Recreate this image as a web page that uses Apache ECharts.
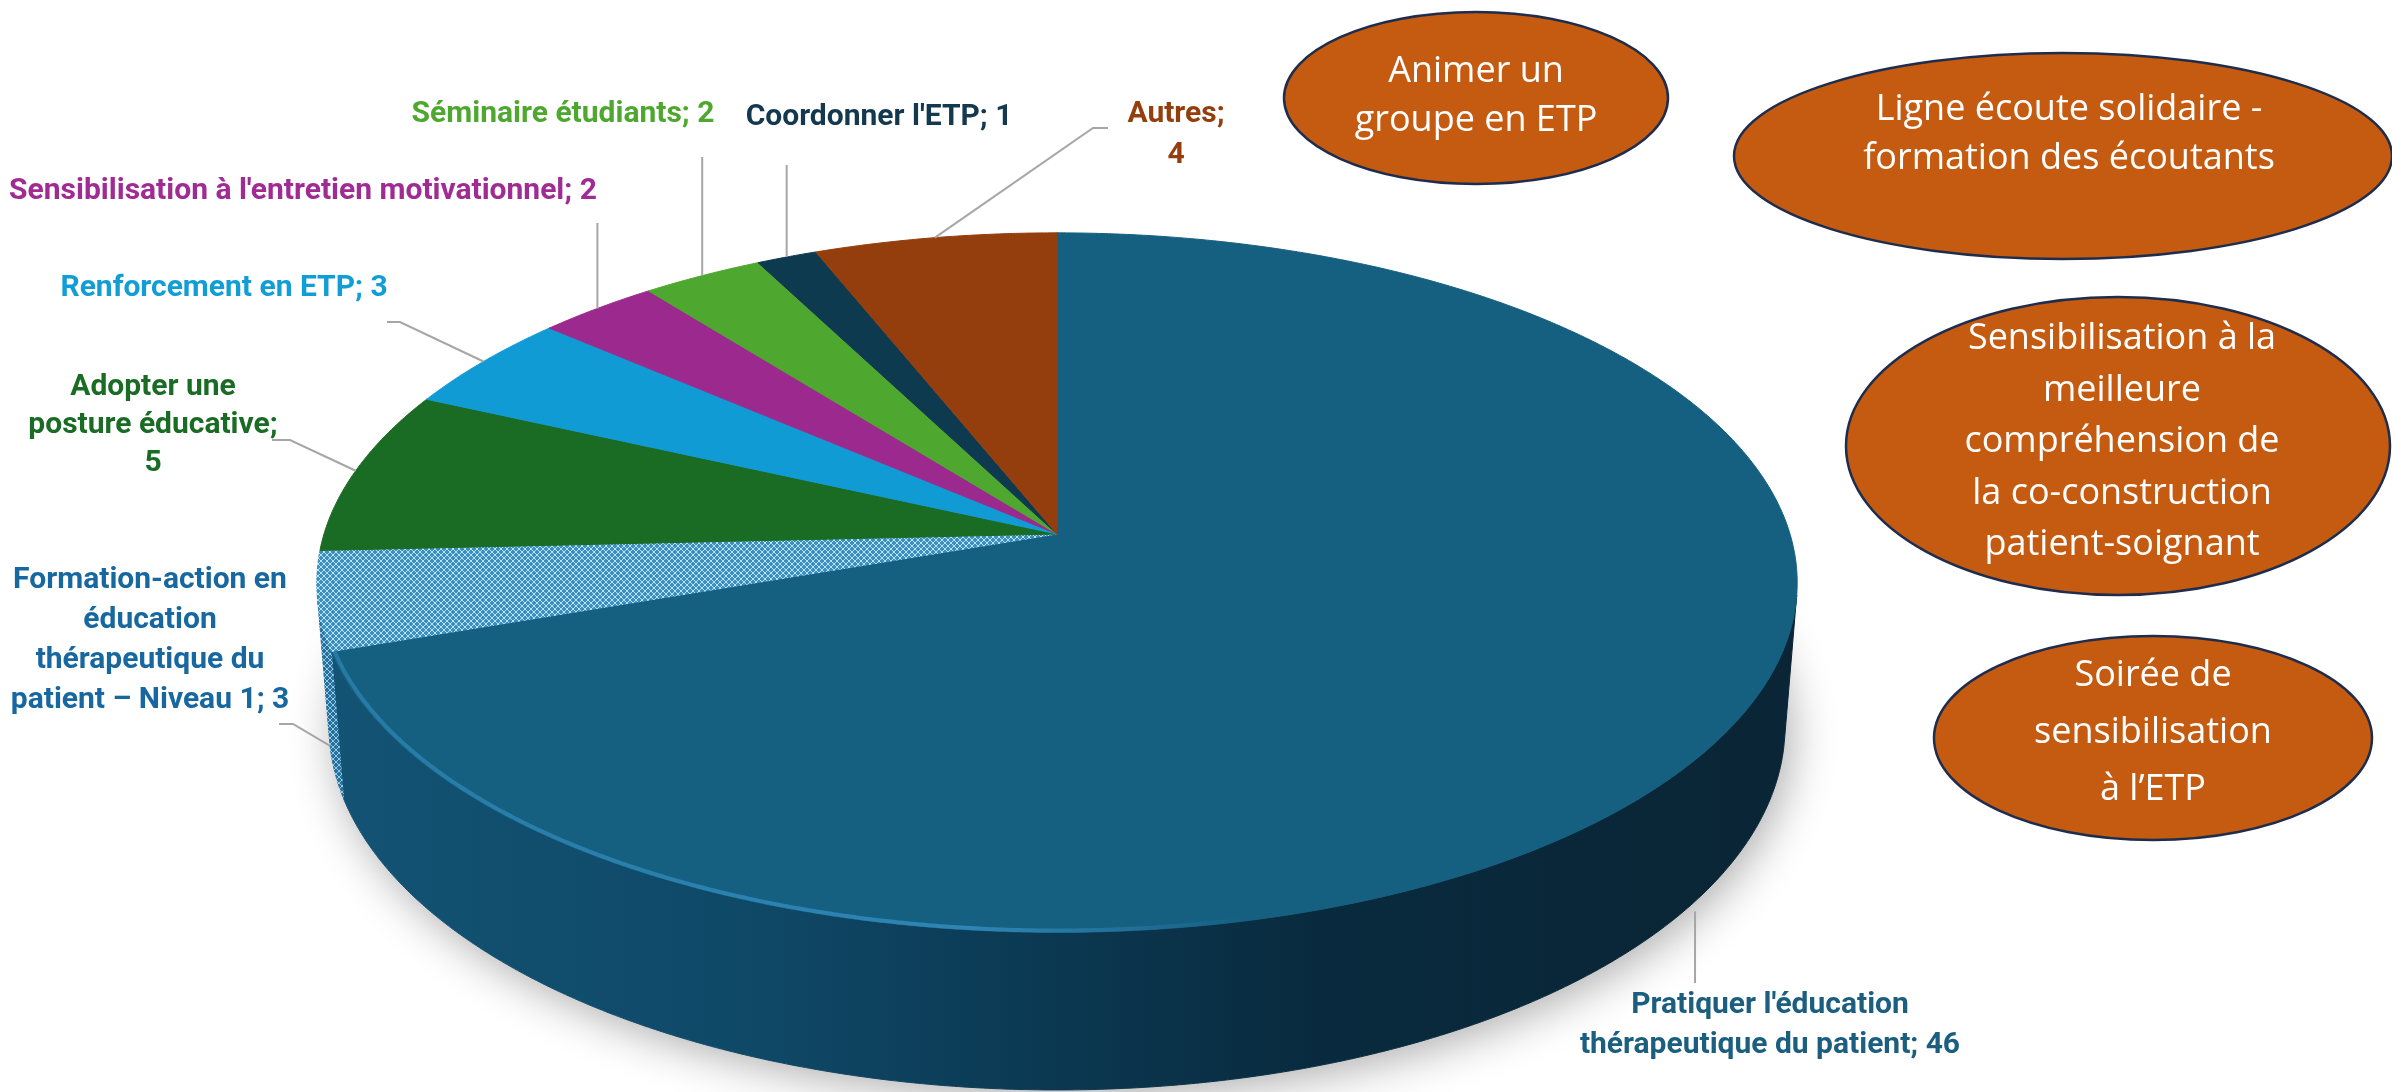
<!DOCTYPE html>
<html>
<head>
<meta charset="utf-8">
<script src="https://cdn.jsdelivr.net/npm/echarts@6/dist/echarts.min.js"></script>
<style>
  html, body { margin: 0; background: #fff; }
  #chart { width: 2392px; height: 1092px; }
</style>
</head>
<body>
<div id="chart"></div>
<script>
// slices, clockwise from 12 o'clock
const categories = [
  "Pratiquer l'éducation\nthérapeutique du patient",
  "Formation-action en\néducation\nthérapeutique du\npatient – Niveau 1",
  "Adopter une\nposture éducative",
  "Renforcement en ETP",
  "Sensibilisation à l'entretien motivationnel",
  "Séminaire étudiants",
  "Coordonner l'ETP",
  "Autres"
]
const values = [46, 3, 5, 3, 2, 2, 1, 4]

// other actions, shown as orange bubbles on the right
const bubbleTexts = [
  'Animer un\ngroupe en ETP',
  'Ligne écoute solidaire -\nformation des écoutants',
  'Sensibilisation à la\nmeilleure\ncompréhension de\nla co-construction\npatient-soignant',
  'Soirée de\nsensibilisation\nà l\u2019ETP'
]

const sliceColors = ['#155F80', null, '#1A6B24', '#119BD5', '#9C2A8E', '#4EA72E', '#0E3A50', '#943E0E']
const labelColors = ['#1B5E80', '#1767A0', '#1A6B24', '#119ED6', '#A02B93', '#4EA72E', '#14384E', '#943E0E']

// label placement (x: text centre, y: first line centre); null x in a leader point = above the slice edge
const labelLayout = [
  { x: 1770, y: 1005, lh: 40, sep: '; ', edge: 1, pad: 10, line: [[null, 983]] },
  { x: 150, y: 580, lh: 40, sep: '; ', edge: 1, line: [[279, 724], [293, 724]] },
  { x: 153, y: 387, lh: 38, sep: ';\n', edge: 0, line: [[272, 440], [290, 440]] },
  { x: 224, y: 288, lh: 36, sep: '; ', edge: 0, line: [[387, 322], [400, 322]] },
  { x: 303, y: 191, lh: 36, sep: '; ', edge: 0, line: [[null, 223]] },
  { x: 563, y: 114, lh: 36, sep: '; ', edge: 0, line: [[null, 157]] },
  { x: 879, y: 117, lh: 36, sep: '; ', edge: 0, line: [[null, 165]] },
  { x: 1176, y: 114, lh: 41, sep: ';\n', edge: 0, line: [[1108, 128], [1093, 128]] }
]

const bubbleLayout = [
  { cx: 1476, cy: 98, rx: 192, ry: 86, ty: 96, lh: 49 },
  { cx: 2063, cy: 156, rx: 329, ry: 103, tx: 2069, ty: 134, lh: 49 },
  { cx: 2118, cy: 446, rx: 272, ry: 149, tx: 2122, ty: 442, lh: 51.5 },
  { cx: 2153, cy: 738, rx: 219, ry: 102, ty: 733, lh: 57 }
]

// perspective view of the pie disc
const view = { cx: 1057, cy: 534, A: 343, B: 733, k: 0.139, s: 0.0736, h: 0.2235, cosA: 0.884 }
const TAU = Math.PI * 2
const total = values.reduce((a, b) => a + b, 0)
const startAngles = []
let acc = 0
values.forEach(v => { startAngles.push(acc / total * TAU); acc += v })

// visible part of the outer wall (between the two silhouette angles)
const wallFrom = 100 / 180 * Math.PI
const wallTo = 260 / 180 * Math.PI

function project(theta, rho, t) {
  const c = Math.cos(theta), sn = Math.sin(theta)
  const d = 1 + view.k * rho * c + view.s * t * view.h
  return [
    view.cx + view.B * rho * sn / d,
    view.cy + (-view.A * rho * c + view.B * t * view.h * view.cosA) / d
  ]
}

function arc(a0, a1, rho, t) {
  const n = Math.max(2, Math.ceil((a1 - a0) / 0.005) + 1)
  const pts = []
  for (let j = 0; j < n; j++) pts.push(project(a0 + (a1 - a0) * j / (n - 1), rho, t))
  return pts
}

function hatch(bg, fg) {
  const c = document.createElement('canvas')
  c.width = c.height = 6
  const g = c.getContext('2d')
  g.fillStyle = bg
  g.fillRect(0, 0, 6, 6)
  g.strokeStyle = fg
  g.lineWidth = 1
  g.beginPath()
  g.moveTo(0, 0); g.lineTo(6, 6)
  g.moveTo(6, 0); g.lineTo(0, 6)
  g.stroke()
  return { image: c, repeat: 'repeat' }
}
const hatchTop = hatch('#3d8fc0', '#b9e3f7')
const hatchSide = hatch('#2a6f99', '#8fcbe8')

function topFill(i) { return i === 1 ? hatchTop : sliceColors[i] }
function sideFill(i) {
  if (i === 0) {
    return new echarts.graphic.LinearGradient(320, 0, 1795, 0, [
      { offset: 0, color: '#135374' },
      { offset: 0.3, color: '#0f4867' },
      { offset: 0.5, color: '#0b3851' },
      { offset: 0.68, color: '#092a3e' },
      { offset: 1, color: '#0a2535' }
    ], true)
  }
  if (i === 1) return hatchSide
  return echarts.color.lift(sliceColors[i], -0.3)
}

function renderItem(params, api) {
  const i = params.dataIndex
  const a0 = startAngles[i]
  const a1 = a0 + api.value(0) / total * TAU
  const children = []

  if (i === 0) {
    // soft shadow under the whole disc
    children.push({
      type: 'polygon',
      shape: { points: arc(0, TAU, 1, 1) },
      style: { fill: '#fff', shadowBlur: 45, shadowColor: 'rgba(0,0,0,0.32)', shadowOffsetX: 6, shadowOffsetY: 8 },
      z2: 0
    })
  }

  // outer wall, front part only
  const s0 = Math.max(a0, wallFrom), s1 = Math.min(a1, wallTo)
  if (s1 > s0) {
    const pts = arc(s0, s1, 1, 0).concat(arc(s0, s1, 1, 1).reverse())
    const f = sideFill(i)
    children.push({ type: 'polygon', shape: { points: pts }, style: { fill: f, stroke: f, lineWidth: 1 }, z2: 2 })
  }

  // top face
  const tf = topFill(i)
  children.push({
    type: 'polygon',
    shape: { points: [project(0, 0, 0)].concat(arc(a0, a1, 1, 0)) },
    style: { fill: tf, stroke: tf, lineWidth: 1 },
    z2: 5
  })

  // bevel highlight along the front-left rim
  const b0 = Math.max(a0, 2.3), b1 = Math.min(a1, 4.5)
  if (i === 0 && b1 > b0) {
    children.push({
      type: 'polyline',
      shape: { points: arc(b0, b1, 0.996, 0) },
      style: {
        stroke: new echarts.graphic.LinearGradient(1250, 0, 330, 0, [
          { offset: 0, color: 'rgba(50,140,190,0)' },
          { offset: 0.3, color: 'rgba(50,140,190,0.85)' },
          { offset: 1, color: 'rgba(50,140,190,0.6)' }
        ], true),
        lineWidth: 4,
        fill: null
      },
      z2: 6
    })
  }

  // leader line + label
  const L = labelLayout[i]
  const mid = (a0 + a1) / 2
  const edge = project(mid, 1, L.edge)
  const pts = L.line.map(p => [p[0] == null ? edge[0] : p[0], p[1]])
  let end = edge
  if (L.pad) {
    const prev = pts[pts.length - 1]
    const dx = edge[0] - prev[0], dy = edge[1] - prev[1]
    const len = Math.hypot(dx, dy)
    end = [edge[0] - dx / len * L.pad, edge[1] - dy / len * L.pad]
  }
  pts.push(end)
  children.push({
    type: 'polyline',
    shape: { points: pts },
    style: { stroke: '#A6A6A6', lineWidth: 2, fill: null },
    z2: 8
  })
  children.push({
    type: 'text',
    x: L.x,
    y: L.y - L.lh / 2,
    style: {
      text: categories[i] + L.sep + api.value(0),
      fill: labelColors[i],
      font: 'bold 30px Roboto',
      align: 'center',
      verticalAlign: 'top',
      lineHeight: L.lh
    },
    z2: 9
  })

  return { type: 'group', children }
}

const graphics = bubbleTexts.map((t, i) => {
  const b = bubbleLayout[i]
  return {
    type: 'group',
    children: [
      {
        type: 'ellipse',
        shape: { cx: b.cx, cy: b.cy, rx: b.rx, ry: b.ry },
        style: { fill: '#C55A11', stroke: '#1F2D4D', lineWidth: 2.5 }
      },
      {
        type: 'text',
        x: b.tx || b.cx,
        y: b.ty,
        style: {
          text: t,
          fill: '#fff',
          font: '36px "Open Sans"',
          align: 'center',
          verticalAlign: 'middle',
          lineHeight: b.lh
        }
      }
    ]
  }
})

const chart = echarts.init(document.getElementById('chart'), null, { renderer: 'canvas' })
chart.setOption({
  animation: false,
  backgroundColor: '#fff',
  graphic: graphics,
  series: [{
    type: 'custom',
    coordinateSystem: 'none',
    data: values,
    renderItem
  }]
})
</script>
</body>
</html>
